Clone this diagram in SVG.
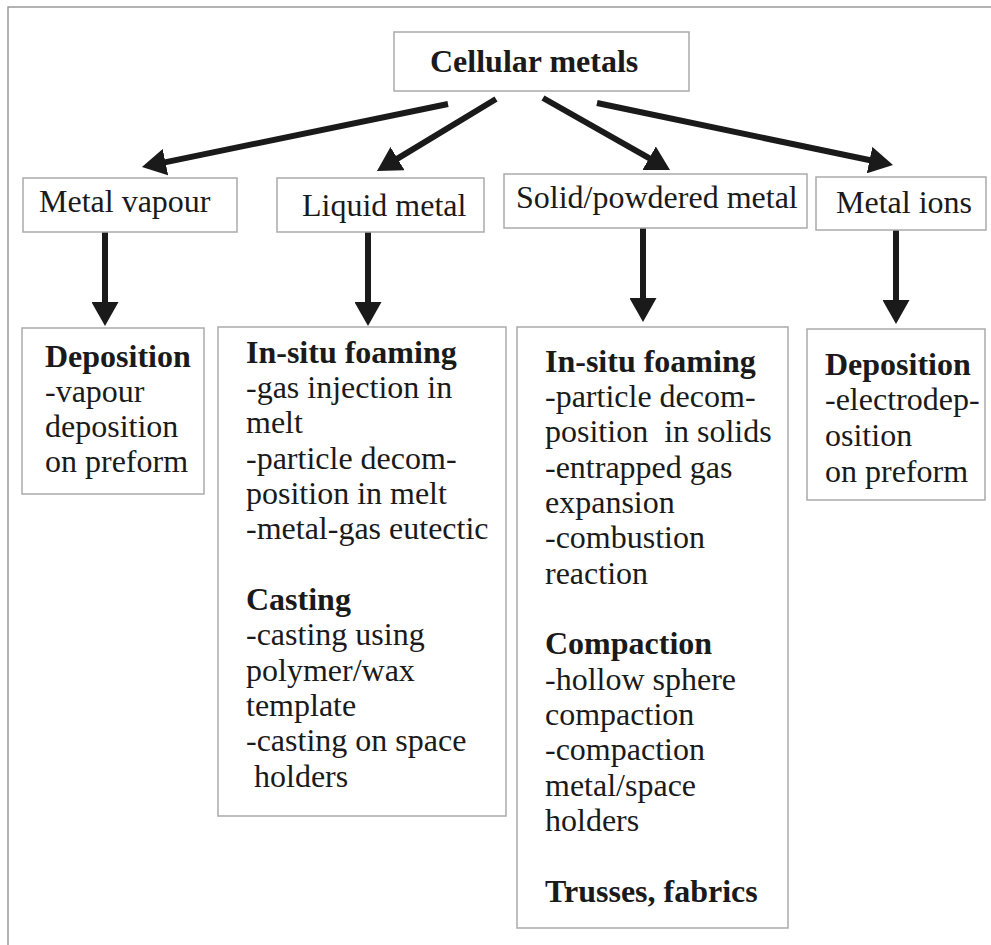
<svg xmlns="http://www.w3.org/2000/svg" width="991" height="945" viewBox="0 0 991 945">
  <defs>
    <marker id="ah" markerUnits="userSpaceOnUse" markerWidth="24" markerHeight="27" refX="2" refY="13.5" orient="auto" viewBox="0 0 24 27">
      <path d="M0,0 L24,13.5 L0,27 Z" fill="#1a1a1a"/>
    </marker>
  </defs>
  <style>
    .box { fill: #ffffff; stroke: #aaaaaa; stroke-width: 1.5; }
    .t { font-family: "Liberation Serif", "Times New Roman", serif; font-size: 32px; fill: #1a1a1a; }
    .b { font-weight: bold; }
    .conn { stroke: #1a1a1a; stroke-width: 6; fill: none; marker-end: url(#ah); }
  </style>
  <rect width="991" height="945" fill="#ffffff"/>
  <path d="M8,945 V7 H991" fill="none" stroke="#9a9a9a" stroke-width="1.5"/>

  <g id="connectors">
    <line class="conn" x1="448" y1="104" x2="163.5" y2="162.6"/>
    <line class="conn" x1="496" y1="99" x2="395.8" y2="159.6"/>
    <line class="conn" x1="543" y1="98" x2="650.9" y2="159.2"/>
    <line class="conn" x1="597" y1="103" x2="871.5" y2="160.5"/>
    <line class="conn" x1="105" y1="232" x2="105" y2="304"/>
    <line class="conn" x1="368" y1="232" x2="368" y2="304"/>
    <line class="conn" x1="643" y1="228" x2="643" y2="300"/>
    <line class="conn" x1="896" y1="230" x2="896" y2="302"/>
  </g>

  <g id="cellular-metals">
    <rect class="box" x="394" y="32" width="295" height="59"/>
    <text class="t b" x="430" y="72">Cellular metals</text>
  </g>

  <g id="metal-vapour">
    <rect class="box" x="23" y="178" width="214" height="54"/>
    <text class="t" x="39" y="212">Metal vapour</text>
  </g>

  <g id="liquid-metal">
    <rect class="box" x="277" y="178" width="207" height="54"/>
    <text class="t" x="302" y="216">Liquid metal</text>
  </g>

  <g id="solid-powdered-metal">
    <rect class="box" x="504" y="174" width="303" height="54"/>
    <text class="t" x="516" y="208">Solid/powdered metal</text>
  </g>

  <g id="metal-ions">
    <rect class="box" x="816" y="177" width="170" height="53"/>
    <text class="t" x="836" y="213">Metal ions</text>
  </g>

  <g id="vapour-deposition">
    <rect class="box" x="22" y="328" width="182" height="166"/>
    <text class="t" x="45">
      <tspan class="b" x="45" y="367">Deposition</tspan>
      <tspan x="45" y="402">-vapour</tspan>
      <tspan x="45" y="437">deposition</tspan>
      <tspan x="45" y="472">on preform</tspan>
    </text>
  </g>

  <g id="liquid-methods">
    <rect class="box" x="218" y="327" width="288" height="489"/>
    <text class="t" x="246" xml:space="preserve"><tspan class="b" x="246" y="363">In-situ foaming</tspan><tspan x="246" y="398">-gas injection in</tspan><tspan x="246" y="433">melt</tspan><tspan x="246" y="469">-particle decom-</tspan><tspan x="246" y="504">position in melt</tspan><tspan x="246" y="539">-metal-gas eutectic</tspan><tspan class="b" x="246" y="610">Casting</tspan><tspan x="246" y="645">-casting using</tspan><tspan x="246" y="681">polymer/wax</tspan><tspan x="246" y="716">template</tspan><tspan x="246" y="751">-casting on space</tspan><tspan x="246" y="787"> holders</tspan></text>
  </g>

  <g id="solid-methods">
    <rect class="box" x="517" y="327" width="271" height="601"/>
    <text class="t" x="545" xml:space="preserve"><tspan class="b" x="545" y="372">In-situ foaming</tspan><tspan x="545" y="407">-particle decom-</tspan><tspan x="545" y="442">position  in solids</tspan><tspan x="545" y="478">-entrapped gas</tspan><tspan x="545" y="513">expansion</tspan><tspan x="545" y="548">-combustion</tspan><tspan x="545" y="584">reaction</tspan><tspan class="b" x="545" y="654">Compaction</tspan><tspan x="545" y="690">-hollow sphere</tspan><tspan x="545" y="725">compaction</tspan><tspan x="545" y="760">-compaction</tspan><tspan x="545" y="796">metal/space</tspan><tspan x="545" y="831">holders</tspan><tspan class="b" x="545" y="902">Trusses, fabrics</tspan></text>
  </g>

  <g id="ions-deposition">
    <rect class="box" x="807" y="329" width="178" height="171"/>
    <text class="t" x="825">
      <tspan class="b" x="825" y="375">Deposition</tspan>
      <tspan x="825" y="410">-electrodep-</tspan>
      <tspan x="825" y="446">osition</tspan>
      <tspan x="825" y="482">on preform</tspan>
    </text>
  </g>
</svg>
